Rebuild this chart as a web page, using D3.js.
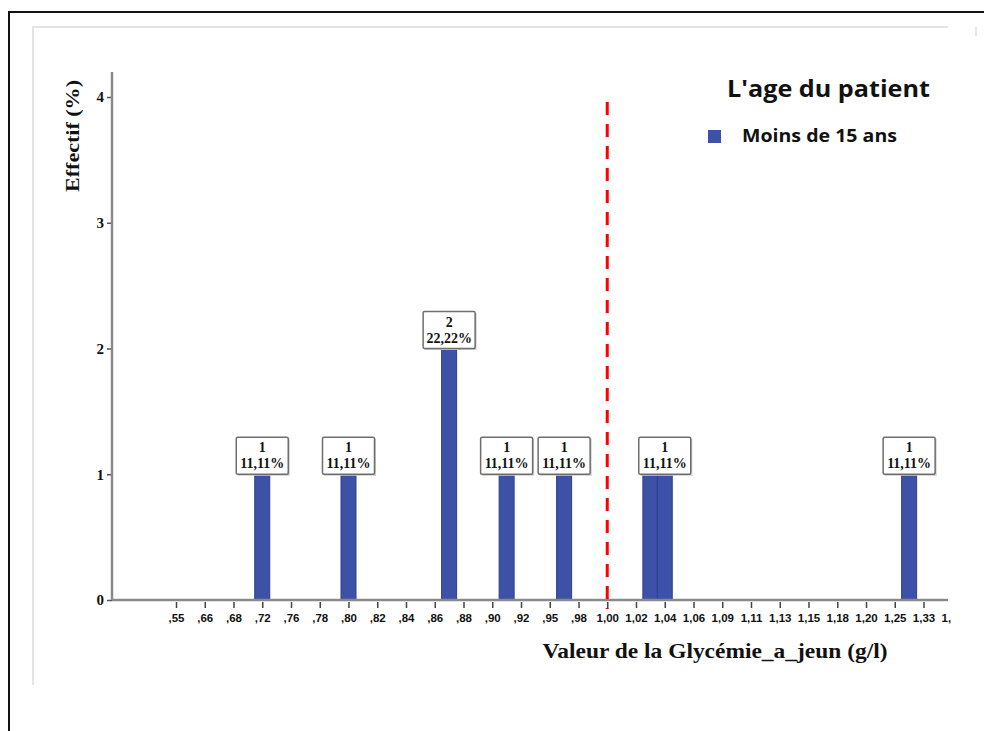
<!DOCTYPE html>
<html>
<head>
<meta charset="utf-8">
<script src="https://cdn.jsdelivr.net/npm/d3@7"></script>
<style>
  body { margin: 0; background: #fff; }
</style>
</head>
<body>
<script>
// tick values shown on the x axis (the last one is cut off by the frame)
const tickValues = [0.55, 0.66, 0.68, 0.72, 0.76, 0.78, 0.80, 0.82, 0.84, 0.86, 0.88, 0.90, 0.92, 0.95, 0.98,
                    1.00, 1.02, 1.04, 1.06, 1.09, 1.11, 1.13, 1.15, 1.18, 1.20, 1.25, 1.33, 1.37];
// bars : glycemia value and count
const barValues = [0.72, 0.80, 0.87, 0.91, 0.965, 1.03, 1.04, 1.29];
const barCounts = [1, 1, 2, 1, 1, 1, 1, 1];
const yTicks = [0, 1, 2, 3, 4];
const threshold = 1.00;
const legendTitle = "L'age du patient";
const seriesName = "Moins de 15 ans";

function main(){
    const width = 984;
    const height = 731;
    const left = 112, right = 948, top = 97, bottom = 600;
    const firstTick = 176, step = 28.75;
    const barColor = "#3d52a6";

    const svg = d3.select("body").append("svg")
        .attr("width", width)
        .attr("height", height);

    // outer frame + inner light frame
    svg.append("path")
        .attr("d", "M9,731 V12 H984")
        .attr("fill", "none")
        .attr("stroke", "#111")
        .attr("stroke-width", 2);
    svg.append("path")
        .attr("d", "M33,685 V27 H948")
        .attr("fill", "none")
        .attr("stroke", "#e4e4e4")
        .attr("stroke-width", 2);
    svg.append("line")
        .attr("x1", 976).attr("x2", 976).attr("y1", 27).attr("y2", 36)
        .attr("stroke", "#e4e4e4").attr("stroke-width", 2);

    const x = d3.scaleLinear()
        .domain(tickValues)
        .range(tickValues.map((d, i) => firstTick + i * step));
    const y = d3.scaleLinear().domain([0, 4]).range([bottom, top]);

    const fr = d3.formatLocale({decimal: ",", thousands: " ", grouping: [3], currency: ["", " €"]});
    const f2 = fr.format(".2f");
    const tickFmt = d => f2(d).replace(/^0/, "");

    svg.append("clipPath").attr("id", "clip")
        .append("rect").attr("x", 0).attr("y", 0).attr("width", right + 3).attr("height", height);

    // x axis
    const xAxis = svg.append("g")
        .attr("transform", `translate(0,${bottom + 2})`)
        .attr("clip-path", "url(#clip)")
        .call(d3.axisBottom(x).tickValues(tickValues).tickSize(6).tickPadding(6).tickFormat(tickFmt));
    xAxis.select(".domain").remove();
    xAxis.selectAll(".tick line").attr("stroke", "#444").attr("stroke-width", 1.5);
    xAxis.selectAll(".tick text")
        .attr("font-family", "Liberation Sans, sans-serif")
        .attr("font-weight", "bold")
        .attr("font-size", "11.5px")
        .attr("fill", "#111");

    // y axis
    const yAxis = svg.append("g")
        .attr("transform", `translate(${left},0)`)
        .call(d3.axisLeft(y).tickValues(yTicks).tickSize(5).tickPadding(3).tickFormat(d3.format("d")));
    yAxis.select(".domain").remove();
    yAxis.selectAll(".tick line").attr("stroke", "#555").attr("stroke-width", 1.5);
    yAxis.selectAll(".tick text")
        .attr("font-family", "Liberation Serif, serif")
        .attr("font-weight", "bold")
        .attr("font-size", "15px")
        .attr("fill", "#111");

    svg.append("line")
        .attr("x1", left).attr("x2", left).attr("y1", 72).attr("y2", bottom)
        .attr("stroke", "#8a8a8a").attr("stroke-width", 2.5);

    // bars
    const total = d3.sum(barCounts);
    const bars = barValues.map((v, i) => ({value: v, count: barCounts[i], pct: barCounts[i] / total * 100}));
    const bw = 15;

    svg.append("g")
        .selectAll("rect")
        .data(bars)
        .enter()
        .append("rect")
        .attr("x", d => x(d.value) - bw / 2)
        .attr("y", d => y(d.count))
        .attr("width", bw)
        .attr("height", d => y(0) - y(d.count))
        .style("fill", barColor)
        .style("stroke", "#2e3f8c")
        .style("stroke-width", 1);

    svg.append("line")
        .attr("x1", left).attr("x2", right).attr("y1", bottom).attr("y2", bottom)
        .attr("stroke", "#8a8a8a").attr("stroke-width", 2.5);

    // labels, hide those that overlap a later one
    const bw2 = 26, bh = 37;
    const kept = [];
    bars.slice().reverse().forEach(d => {
        const cx = x(d.value);
        if (!kept.some(k => Math.abs(x(k.value) - cx) < bw2 * 2 && k.count === d.count)) kept.push(d);
    });

    const lab = svg.append("g")
        .selectAll("g")
        .data(kept)
        .enter()
        .append("g")
        .attr("transform", d => `translate(${x(d.value)},${y(d.count) - bh})`);
    lab.append("rect")
        .attr("x", -bw2 + 1.5).attr("y", 1.5)
        .attr("width", bw2 * 2).attr("height", bh)
        .attr("fill", "#ccc");
    lab.append("rect")
        .attr("x", -bw2).attr("y", 0)
        .attr("width", bw2 * 2).attr("height", bh)
        .attr("rx", 1.5)
        .attr("fill", "#fff")
        .attr("stroke", "#6e6e6e")
        .attr("stroke-width", 1.5);
    lab.append("text")
        .attr("y", 15)
        .text(d => d.count);
    lab.append("text")
        .attr("y", 31)
        .text(d => f2(d.pct) + "%");
    lab.selectAll("text")
        .attr("text-anchor", "middle")
        .attr("font-family", "Liberation Serif, serif")
        .attr("font-weight", "bold")
        .attr("font-size", "14px")
        .attr("fill", "#111");

    // threshold line
    svg.append("line")
        .attr("x1", x(threshold)).attr("x2", x(threshold))
        .attr("y1", 102).attr("y2", 609)
        .attr("stroke", "#ff0000")
        .attr("stroke-width", 3)
        .attr("stroke-dasharray", "13,9");

    // axis titles
    svg.append("text")
        .attr("transform", "translate(79,136) rotate(-90)")
        .attr("text-anchor", "middle")
        .attr("font-family", "Liberation Serif, serif")
        .attr("font-weight", "bold")
        .attr("font-size", "19px")
        .attr("textLength", 112)
        .attr("lengthAdjust", "spacingAndGlyphs")
        .attr("fill", "#111")
        .text("Effectif (%)");

    svg.append("text")
        .attr("x", 715).attr("y", 658)
        .attr("text-anchor", "middle")
        .attr("font-family", "Liberation Serif, serif")
        .attr("font-weight", "bold")
        .attr("font-size", "21px")
        .attr("textLength", 345)
        .attr("lengthAdjust", "spacingAndGlyphs")
        .attr("fill", "#111")
        .text("Valeur de la Glycémie_a_jeun (g/l)");

    // legend
    svg.append("text")
        .attr("x", 727).attr("y", 97)
        .attr("font-family", "Open Sans, sans-serif")
        .attr("font-weight", "bold")
        .attr("font-size", "23px")
        .attr("textLength", 203)
        .attr("lengthAdjust", "spacingAndGlyphs")
        .attr("fill", "#111")
        .text(legendTitle);
    svg.append("rect")
        .attr("x", 708).attr("y", 130)
        .attr("width", 13).attr("height", 13)
        .attr("fill", barColor);
    svg.append("text")
        .attr("x", 742).attr("y", 142)
        .attr("font-family", "Open Sans, sans-serif")
        .attr("font-weight", "bold")
        .attr("font-size", "17px")
        .attr("textLength", 155)
        .attr("lengthAdjust", "spacingAndGlyphs")
        .attr("fill", "#111")
        .text(seriesName);
}

main();
</script>
</body>
</html>
